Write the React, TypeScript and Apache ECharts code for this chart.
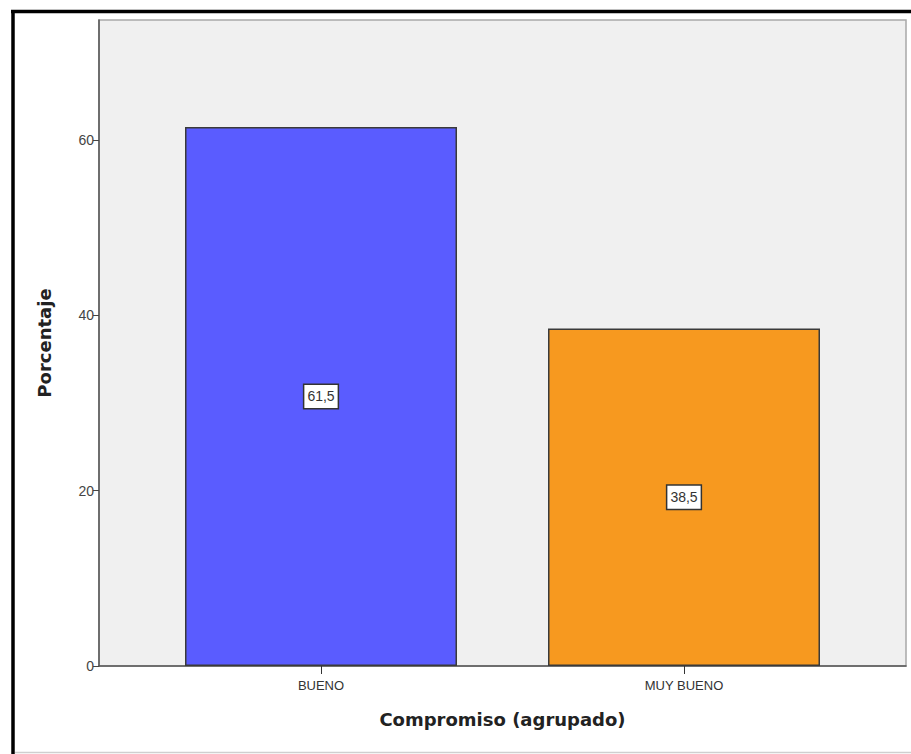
import React, { useEffect, useRef } from "react";
import * as echarts from "echarts";

const categories = ["BUENO", "MUY BUENO"];
const percentages = [61.5, 38.5];
const barColors = ["#5a5cff", "#f7991f"];
const yTickValues = [0, 20, 40, 60];
const yMax = 73.7;
const xTitle = "Compromiso (agrupado)";
const yTitle = "Porcentaje";

export default function App() {
  const ref = useRef<HTMLDivElement>(null);
  useEffect(() => {
    if (!ref.current) return;
    const chart = echarts.init(ref.current, undefined, { renderer: "svg" });
    const option: any = {
      animation: false,
      backgroundColor: "#ffffff",
      grid: [
        {
          left: 99,
          top: 20,
          width: 807,
          height: 646,
          show: true,
          backgroundColor: "#f0f0f0",
          borderColor: "#a8a8a8",
          borderWidth: 1.5,
        },
        { left: 139.5, top: 20, width: 726, height: 646 },
      ],
      xAxis: [
        {
          gridIndex: 0,
          type: "value",
          min: 0,
          max: 1,
          axisLine: { show: true, lineStyle: { color: "#555", width: 1.5 } },
          axisTick: { show: false },
          axisLabel: { show: false },
          splitLine: { show: false },
          name: xTitle,
          nameLocation: "middle",
          nameGap: 44,
          nameTextStyle: {
            fontFamily: "DejaVu Sans",
            fontWeight: "bold",
            fontSize: 18,
            color: "#222",
          },
        },
        {
          gridIndex: 1,
          type: "category",
          data: categories,
          axisLine: { show: false },
          axisTick: {
            show: true,
            alignWithLabel: true,
            length: 8,
            lineStyle: { color: "#333", width: 1 },
          },
          axisLabel: {
            fontFamily: "Liberation Sans",
            fontSize: 13,
            color: "#333",
            margin: 13,
          },
        },
      ],
      yAxis: [
        {
          gridIndex: 0,
          type: "value",
          min: 0,
          max: yMax,
          axisLine: { show: true, lineStyle: { color: "#555", width: 1.5 } },
          axisTick: {
            show: true,
            length: 6,
            customValues: yTickValues,
            lineStyle: { color: "#444" },
          },
          axisLabel: {
            customValues: yTickValues,
            fontFamily: "Liberation Sans",
            fontSize: 14,
            color: "#444",
            margin: 5,
          },
          splitLine: { show: false },
          name: yTitle,
          nameLocation: "middle",
          nameRotate: 90,
          nameGap: 46,
          nameTextStyle: {
            fontFamily: "DejaVu Sans",
            fontWeight: "bold",
            fontSize: 18,
            color: "#222",
          },
        },
        { gridIndex: 1, type: "value", min: 0, max: yMax, show: false },
      ],
      series: [
        {
          type: "bar",
          xAxisIndex: 1,
          yAxisIndex: 1,
          barWidth: 272,
          data: percentages.map((v, i) => ({
            value: v,
            itemStyle: { color: barColors[i] },
          })),
          itemStyle: { borderColor: "#3a3a3a", borderWidth: 1.5 },
          label: {
            show: true,
            position: "inside",
            formatter: (p: any) => String(p.value).replace(".", ","),
            fontFamily: "Liberation Sans",
            fontSize: 14,
            color: "#333",
            backgroundColor: "#ffffff",
            borderColor: "#333",
            borderWidth: 1.5,
            padding: [5, 3, 4, 3],
          },
        },
      ],
      graphic: [
        {
          type: "line",
          shape: { x1: 13, y1: 10, x2: 13, y2: 754 },
          style: { stroke: "#000", lineWidth: 3.5 },
        },
        {
          type: "line",
          shape: { x1: 11, y1: 11.5, x2: 911, y2: 11.5 },
          style: { stroke: "#000", lineWidth: 3.5 },
        },
        {
          type: "line",
          shape: { x1: 15, y1: 752.5, x2: 911, y2: 752.5 },
          style: { stroke: "#cfcfcf", lineWidth: 1.5 },
        },
      ],
    };
    chart.setOption(option);
    return () => chart.dispose();
  }, []);
  return (
    <div
      ref={ref}
      style={{ position: "absolute", left: 0, top: 0, width: 911, height: 754 }}
    />
  );
}
